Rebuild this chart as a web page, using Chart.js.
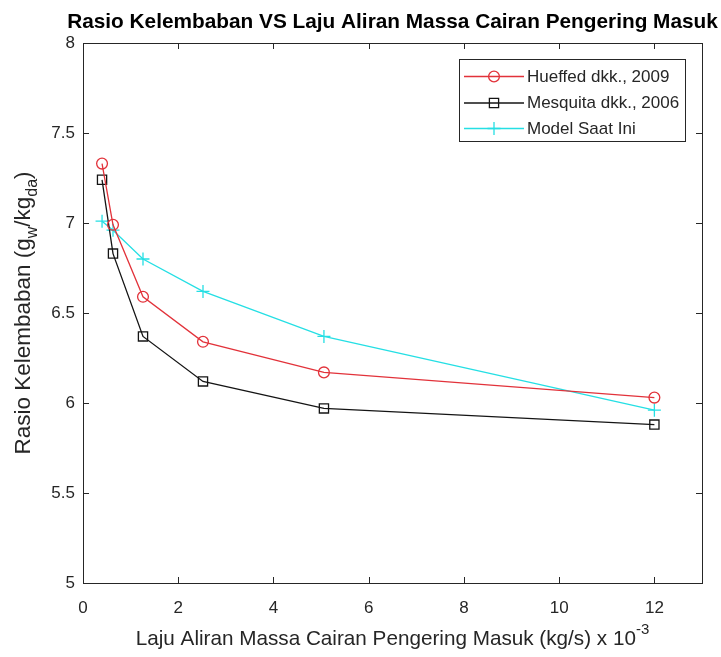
<!DOCTYPE html>
<html>
<head>
<meta charset="utf-8">
<script src="https://cdn.jsdelivr.net/npm/chart.js@4.4.1/dist/chart.umd.min.js"></script>
<style>
  html, body { margin: 0; padding: 0; background: #fff; }
  #wrap { width: 721px; height: 657px; }
</style>
</head>
<body>
<div id="wrap"><canvas id="c" width="721" height="657"></canvas></div>
<script>
// Mass flow rate of incoming desiccant (kg/s, x 10^-3)
const flowRate = [0.4, 0.63, 1.26, 2.52, 5.06, 12];
// Humidity ratio (g_w / kg_da) for each source
const hueffed2009 = [7.33, 6.99, 6.59, 6.34, 6.17, 6.03];
const mesquita2006 = [7.24, 6.83, 6.37, 6.12, 5.97, 5.88];
const modelNow = [7.01, 6.96, 6.80, 6.62, 6.37, 5.96];

const xTicks = [0, 2, 4, 6, 8, 10, 12];
const yTicks = [5, 5.5, 6, 6.5, 7, 7.5, 8];

const seriesNames = ['Hueffed dkk., 2009', 'Mesquita dkk., 2006', 'Model Saat Ini'];

const FONT = '"Liberation Sans", Arial, Helvetica, sans-serif';
const TXT = '#262626';

function pts(ys) { return flowRate.map((x, i) => ({ x: x, y: ys[i] })); }

const styles = [
  { color: '#e2323a', point: 'circle', radius: 5.4 },
  { color: '#141414', point: 'rect', radius: 4.6 },
  { color: '#25dfe4', point: 'cross', radius: 6.5 }
];

function drawMarker(ctx, st, x, y) {
  ctx.save();
  ctx.strokeStyle = st.color;
  ctx.lineWidth = 1.3;
  ctx.beginPath();
  if (st.point === 'circle') {
    ctx.arc(x, y, st.radius, 0, Math.PI * 2);
  } else if (st.point === 'rect') {
    const r = st.radius;
    ctx.rect(x - r, y - r, 2 * r, 2 * r);
  } else {
    ctx.moveTo(x - st.radius, y); ctx.lineTo(x + st.radius, y);
    ctx.moveTo(x, y - st.radius); ctx.lineTo(x, y + st.radius);
  }
  ctx.stroke();
  ctx.restore();
}

// rich text: runs of [text, 'n' | 'sub' | 'sup']
function richWidth(ctx, runs, size) {
  let w = 0;
  runs.forEach(r => {
    ctx.font = (r[1] === 'n' ? size : Math.round(size * 0.72)) + 'px ' + FONT;
    w += ctx.measureText(r[0]).width;
  });
  return w;
}
function drawRich(ctx, runs, size, cx, cy) {
  const w = richWidth(ctx, runs, size);
  let x = cx - w / 2;
  ctx.textBaseline = 'middle';
  ctx.textAlign = 'left';
  runs.forEach(r => {
    const s = r[1] === 'n' ? size : Math.round(size * 0.72);
    ctx.font = s + 'px ' + FONT;
    let dy = 0;
    if (r[1] === 'sub') dy = size * 0.38;
    if (r[1] === 'sup') dy = -size * 0.42;
    ctx.fillText(r[0], x, cy + dy);
    x += ctx.measureText(r[0]).width;
  });
}

const decorPlugin = {
  id: 'decor',
  afterDatasetsDraw(chart) {
    const ctx = chart.ctx;
    const a = chart.chartArea;
    const xs = chart.scales.x, ys = chart.scales.y;
    ctx.save();
    // box and inward ticks on all four sides
    ctx.strokeStyle = '#262626';
    ctx.lineWidth = 1;
    ctx.strokeRect(Math.round(a.left) + 0.5, Math.round(a.top) + 0.5,
      Math.round(a.right - a.left), Math.round(a.bottom - a.top));
    const tl = 6;
    ctx.beginPath();
    xTicks.forEach(v => {
      const px = Math.round(xs.getPixelForValue(v)) + 0.5;
      ctx.moveTo(px, a.bottom); ctx.lineTo(px, a.bottom - tl);
      ctx.moveTo(px, a.top); ctx.lineTo(px, a.top + tl);
    });
    yTicks.forEach(v => {
      const py = Math.round(ys.getPixelForValue(v)) + 0.5;
      ctx.moveTo(a.left, py); ctx.lineTo(a.left + tl, py);
      ctx.moveTo(a.right, py); ctx.lineTo(a.right - tl, py);
    });
    ctx.stroke();

    // legend
    const lx = 459.5, ly = 59.5, lw = 226, lh = 82;
    ctx.fillStyle = '#fff';
    ctx.fillRect(lx, ly, lw, lh);
    ctx.strokeStyle = '#262626';
    ctx.strokeRect(lx, ly, lw, lh);
    const rowY = [76.5, 103, 128.5];
    seriesNames.forEach((name, i) => {
      const st = styles[i];
      ctx.strokeStyle = st.color;
      ctx.lineWidth = 1.3;
      ctx.beginPath();
      ctx.moveTo(464, rowY[i]); ctx.lineTo(524, rowY[i]);
      ctx.stroke();
      drawMarker(ctx, st, 494, rowY[i]);
      ctx.fillStyle = TXT;
      ctx.font = '17px ' + FONT;
      ctx.textAlign = 'left';
      ctx.textBaseline = 'middle';
      ctx.fillText(name, 527, rowY[i] + 0.5);
    });

    // title and axis labels
    ctx.fillStyle = '#000';
    ctx.font = 'bold 20.8px ' + FONT;
    ctx.textAlign = 'center';
    ctx.textBaseline = 'middle';
    ctx.fillText('Rasio Kelembaban VS Laju Aliran Massa Cairan Pengering Masuk', (a.left + a.right) / 2, 22);

    ctx.fillStyle = TXT;
    drawRich(ctx, [['Laju Aliran Massa Cairan Pengering Masuk (kg/s) x 10', 'n'], ['-3', 'sup']],
      20.7, (a.left + a.right) / 2, 639);

    ctx.save();
    ctx.translate(24, 313);
    ctx.rotate(-Math.PI / 2);
    drawRich(ctx, [['Rasio Kelembaban (g', 'n'], ['w', 'sub'], ['/kg', 'n'], ['da', 'sub'], [')', 'n']],
      22.5, 0, 0);
    ctx.restore();
    ctx.restore();
  }
};

const datasets = [hueffed2009, mesquita2006, modelNow].map((ys, i) => ({
  label: seriesNames[i],
  data: pts(ys),
  showLine: true,
  borderColor: styles[i].color,
  borderWidth: 1.3,
  pointStyle: styles[i].point,
  pointRadius: styles[i].point === 'rect' ? styles[i].radius * Math.SQRT2 : styles[i].radius,
  pointHoverRadius: styles[i].radius,
  pointBorderColor: styles[i].color,
  pointBackgroundColor: 'rgba(0,0,0,0)',
  pointBorderWidth: 1.3,
  tension: 0,
  fill: false
}));

new Chart(document.getElementById('c'), {
  type: 'scatter',
  data: { datasets: datasets },
  options: {
    responsive: false,
    animation: false,
    devicePixelRatio: 1,
    layout: { padding: { left: 0, top: 43, right: 19, bottom: 0 } },
    plugins: { legend: { display: false }, tooltip: { enabled: false }, title: { display: false } },
    scales: {
      x: {
        type: 'linear', min: 0, max: 13,
        afterBuildTicks(s) { s.ticks = xTicks.map(v => ({ value: v })); },
        afterFit(s) { s.height = 74; },
        grid: { display: false, drawTicks: false },
        border: { display: false },
        ticks: { color: TXT, font: { family: FONT, size: 17 }, padding: 15, callback: v => String(v) }
      },
      y: {
        type: 'linear', min: 5, max: 8,
        afterBuildTicks(s) { s.ticks = yTicks.map(v => ({ value: v })); },
        afterFit(s) { s.width = 83; },
        grid: { display: false, drawTicks: false },
        border: { display: false },
        ticks: { color: TXT, font: { family: FONT, size: 17 }, padding: 8, callback: v => String(v) }
      }
    }
  },
  plugins: [decorPlugin]
});
</script>
</body>
</html>
